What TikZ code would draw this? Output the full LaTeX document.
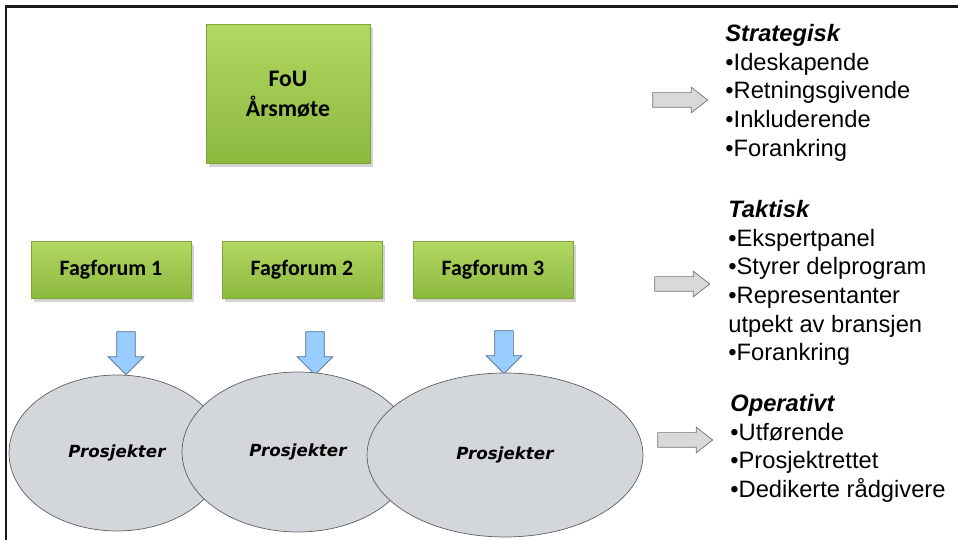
\documentclass[tikz,border=0pt]{standalone}
\usepackage{fontspec}
\setmainfont{Liberation Sans}
\newfontfamily\boxfont{Carlito}
\newfontfamily\projfont{DejaVu Sans}
\usetikzlibrary{shapes.geometric,shapes.arrows,shadows}

\definecolor{greentop}{RGB}{178,216,98}
\definecolor{greenbot}{RGB}{140,184,62}
\definecolor{greenedge}{RGB}{125,165,55}
\definecolor{bluefill}{RGB}{153,204,255}
\definecolor{blueedge}{RGB}{85,110,145}
\definecolor{projfill}{RGB}{211,215,219}
\definecolor{projedge}{RGB}{95,95,95}
\definecolor{grayfill}{RGB}{217,217,217}
\definecolor{grayedge}{RGB}{115,115,115}

\tikzset{
  greenbox/.style={draw=greenedge, top color=greentop, bottom color=greenbot,
    drop shadow={shadow xshift=1.5pt, shadow yshift=-2pt, opacity=0.35},
    align=center, inner sep=0},
  forum/.style={greenbox, minimum width=3.2cm, minimum height=1.14cm,
    font=\boxfont\bfseries\fontsize{12.5}{16}\selectfont},
  downarrow/.style={single arrow, draw=blueedge, fill=bluefill, rotate=-90,
    minimum height=0.86cm, inner xsep=0, inner ysep=0.18cm, single arrow head extend=0.17cm},
  project/.style={ellipse, draw=projedge, fill=projfill,
    font=\projfont\bfseries\itshape\fontsize{9.5}{11}\selectfont},
  rightarrow/.style={single arrow, draw=grayedge, fill=grayfill, minimum height=1.1cm,
    inner xsep=0, inner ysep=0.14cm, single arrow head extend=0.11cm, single arrow tip angle=76},
  level/.style={anchor=north west, align=left, inner sep=0, font=\fontsize{13.5}{16.3}\selectfont}
}

\begin{document}
\begin{tikzpicture}[x=0.02cm, y=-0.02cm]
    \useasboundingbox (0,0) rectangle (958,540);

    % Frame
    \draw[line width=0.06cm, black!90] (6,540) -- (6,7) -- (958,7);

    % Annual meeting
    \node[greenbox, minimum width=3.28cm, minimum height=2.78cm,
      font=\boxfont\bfseries\fontsize{13.5}{17}\selectfont] (arsmote) at (288,94) {FoU\\Årsmøte};

    % Subject forums
    \node[forum] (forum1) at (111,270) {Fagforum 1};
    \node[forum] (forum2) at (302,270) {Fagforum 2};
    \node[forum] (forum3) at (493,270) {Fagforum 3};

    % Arrows down to the projects
    \node[downarrow] (down1) at (126,348.5) {};
    \node[downarrow] (down2) at (315,348.5) {};
    \node[downarrow] (down3) at (504,347.5) {};

    % Projects
    \node[project, minimum width=4.32cm, minimum height=3.12cm] (proj1) at (117,453) {Prosjekter};
    \node[project, minimum width=4.64cm, minimum height=3.2cm] (proj2) at (298,452) {Prosjekter};
    \node[project, minimum width=5.52cm, minimum height=3.28cm] (proj3) at (505,455) {Prosjekter};

    % Arrows to the levels
    \node[rightarrow] (right1) at (675.5,100) {};
    \node[rightarrow] (right2) at (677.5,284) {};
    \node[rightarrow] (right3) at (680.5,440) {};

    % Levels
    \node[level] (strategic) at (725,24) {\textbf{\textit{Strategisk}}\\•Ideskapende\\•Retningsgivende\\•Inkluderende\\•Forankring};
    \node[level] (tactical) at (728,200) {\textbf{\textit{Taktisk}}\\•Ekspertpanel\\•Styrer delprogram\\•Representanter\\utpekt av bransjen\\•Forankring};
    \node[level] (operative) at (730,394) {\textbf{\textit{Operativt}}\\•Utførende\\•Prosjektrettet\\•Dedikerte rådgivere};
\end{tikzpicture}
\end{document}
